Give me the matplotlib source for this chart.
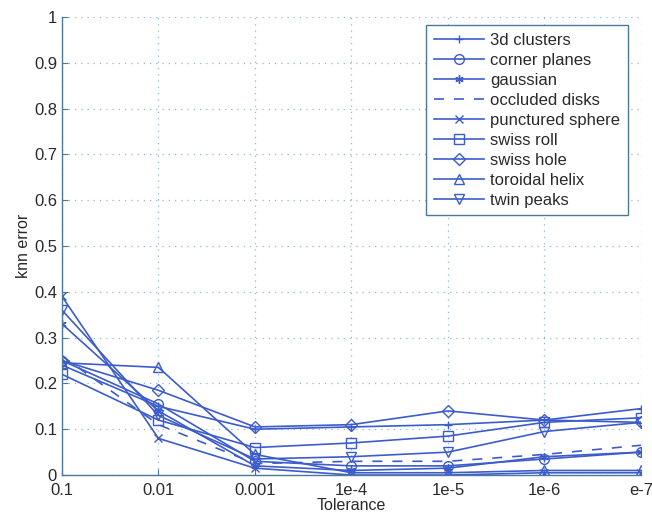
import numpy as np
import matplotlib
matplotlib.use("Agg")
import matplotlib.pyplot as plt

plt.rcParams['font.family'] = ['Liberation Sans', 'DejaVu Sans']

# tolerance settings along the x axis
tol_labels = ['0.1', '0.01', '0.001', '1e-4', '1e-5', '1e-6', 'e-7']

# knn error per dataset
clusters_3d = [0.24, 0.15, 0.10, 0.105, 0.11, 0.12, 0.145]
corner_planes = [0.25, 0.155, 0.03, 0.02, 0.02, 0.035, 0.05]
gaussian = [0.33, 0.14, 0.02, 0.01, 0.015, 0.04, 0.05]
occluded_disks = [0.26, 0.11, 0.025, 0.03, 0.03, 0.045, 0.065]
punctured_sphere = [0.39, 0.08, 0.015, 0.0, 0.0, 0.005, 0.005]
swiss_roll = [0.22, 0.12, 0.06, 0.07, 0.085, 0.115, 0.125]
swiss_hole = [0.25, 0.185, 0.105, 0.11, 0.14, 0.12, 0.115]
toroidal_helix = [0.245, 0.235, 0.045, 0.005, 0.005, 0.01, 0.01]
twin_peaks = [0.36, 0.13, 0.035, 0.04, 0.05, 0.095, 0.115]

asterisk = (6, 2, 0)
series = [
    ('3d clusters', clusters_3d, '+', '-'),
    ('corner planes', corner_planes, 'o', '-'),
    ('gaussian', gaussian, asterisk, '-'),
    ('occluded disks', occluded_disks, None, (0, (6, 6))),
    ('punctured sphere', punctured_sphere, 'x', '-'),
    ('swiss roll', swiss_roll, 's', '-'),
    ('swiss hole', swiss_hole, 'D', '-'),
    ('toroidal helix', toroidal_helix, '^', '-'),
    ('twin peaks', twin_peaks, 'v', '-'),
]

blue = '#3c5ccc'
axcol = '#4a7a9a'
txt = '#2a2a2a'

fig = plt.figure(figsize=(6.52, 5.13), dpi=100)
ax = fig.add_axes([0.095, 0.074, 0.888, 0.893])

x = np.arange(len(tol_labels))
for name, vals, mk, ls in series:
    ms = 7 if mk in ('o', 's', '^', 'v') else 6
    ax.plot(x, vals, color=blue, linestyle=ls, marker=mk,
            markersize=ms, markerfacecolor='none', markeredgecolor=blue,
            markeredgewidth=1.0, linewidth=1.2, label=name)

ax.set_xlim(0, len(tol_labels) - 1)
ax.set_ylim(0, 1)
ax.set_xticks(x)
ax.set_xticklabels(tol_labels)
ax.set_yticks(np.arange(0, 1.01, 0.1))
ax.set_yticklabels(['0', '0.1', '0.2', '0.3', '0.4', '0.5', '0.6', '0.7', '0.8', '0.9', '1'])

ax.grid(True, linestyle=(0, (1, 4)), color='#8fb8d8', linewidth=0.9)
ax.tick_params(direction='in', length=4, colors=axcol, labelcolor=txt, labelsize=12,
               top=False, right=False)
ax.tick_params(axis='x', pad=6)
for s in ax.spines.values():
    s.set_color(axcol)
    s.set_linewidth(1.0)
ax.spines['top'].set_visible(False)
ax.spines['right'].set_visible(False)

ax.set_xlabel('Tolerance', fontsize=11.5, color=txt, labelpad=0)
ax.set_ylabel('knn error', fontsize=11.5, color=txt, labelpad=2)

leg = ax.legend(loc='upper right', bbox_to_anchor=(0.992, 1.0), fontsize=12,
                handlelength=3.0, labelspacing=0.3, borderpad=0.45,
                handletextpad=0.4, fancybox=False, framealpha=1.0)
leg.get_frame().set_edgecolor(axcol)
leg.get_frame().set_linewidth(1.0)
for t in leg.get_texts():
    t.set_color(txt)

fig.savefig('out.png', dpi=100)
